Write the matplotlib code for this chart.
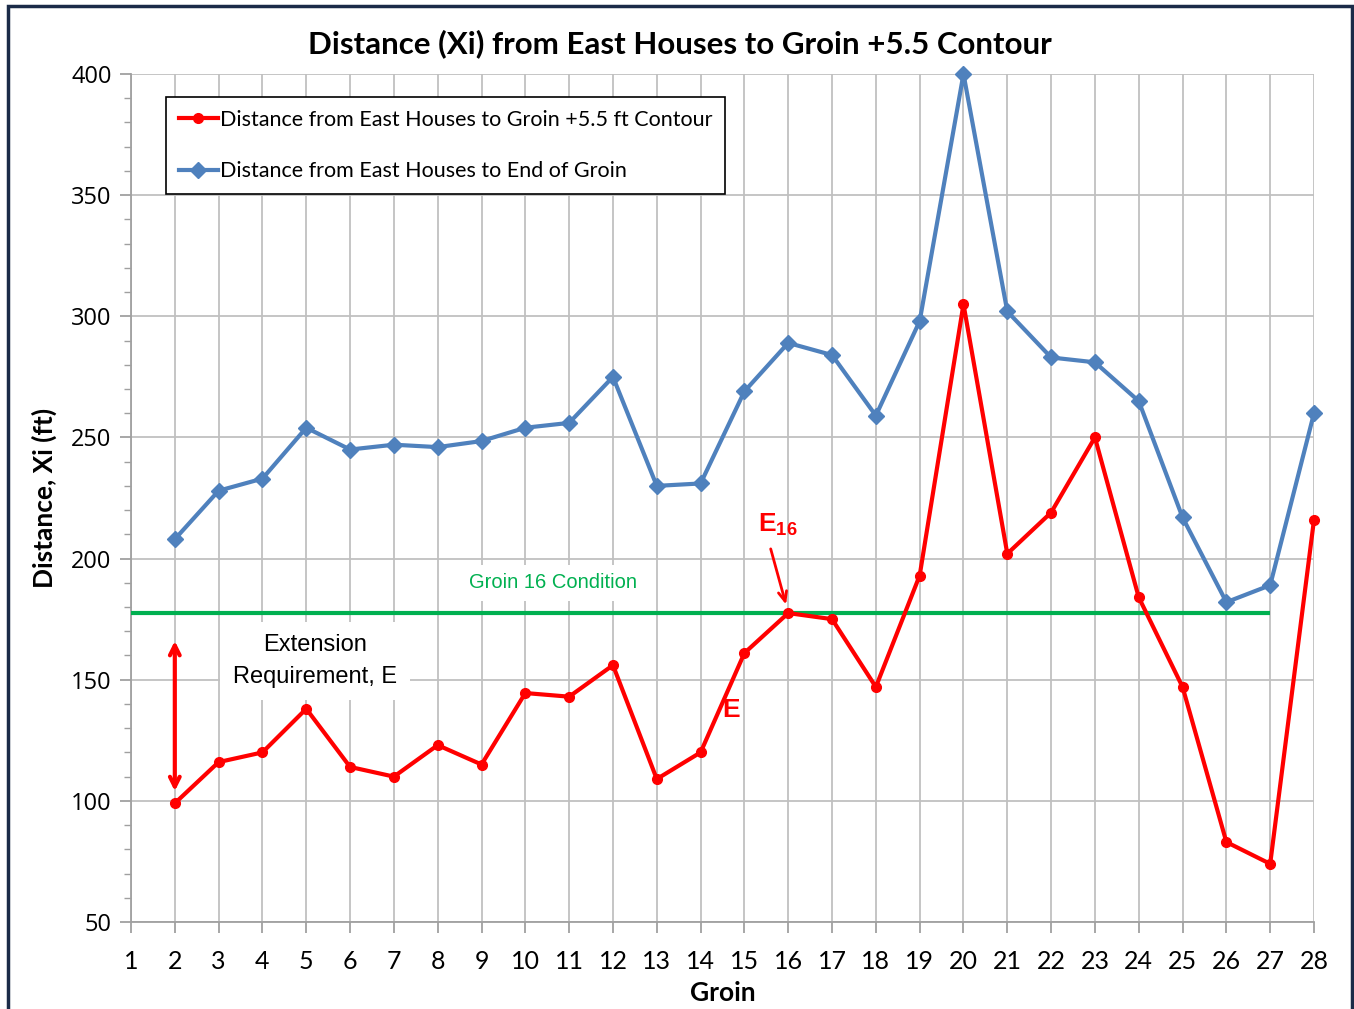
import matplotlib.pyplot as plt
from matplotlib.patches import Rectangle

plt.rcParams['font.family'] = ['Lato', 'DejaVu Sans']

# groin numbers and distances (ft)
groins = list(range(2, 29))
contour_dist = [99, 116, 120, 138, 114, 110, 123, 115, 144.5, 143, 156, 109, 120,
                161, 177.5, 175, 147, 193, 305, 202, 219, 250, 184, 147, 83, 74, 216]
groin_end_dist = [208, 228, 233, 254, 245, 247, 246, 248.5, 254, 256, 275, 230, 231,
                  269, 289, 284, 259, 298, 400, 302, 283, 281, 265, 217, 182, 189, 260]
groin16_condition = 177.5
y_ticks = list(range(50, 401, 50))

narrow = ['Liberation Sans Narrow', 'Liberation Sans']

fig = plt.figure(figsize=(13.54, 10.09), dpi=100)
ax = fig.add_axes([131 / 1354, 87 / 1009, (1314 - 131) / 1354, (922 - 74) / 1009])

# outer frame
fig.patches.append(Rectangle((8 / 1354, -0.02), 1344 / 1354, 1.0 - 6 / 1009 + 0.02,
                             transform=fig.transFigure, fill=False,
                             edgecolor='#1b2b48', linewidth=2.5))

ax.plot(groins, contour_dist, color='#ff0000', lw=3, marker='o', ms=7,
        label='Distance from East Houses to Groin +5.5 ft Contour', zorder=4, clip_on=False)
ax.plot(groins, groin_end_dist, color='#4f81bd', lw=3, marker='D', ms=8,
        label='Distance from East Houses to End of Groin', zorder=4, clip_on=False)
ax.hlines(groin16_condition, 1, 27, color='#00b050', lw=3, zorder=3)

ax.set_xlim(1, 28)
ax.set_ylim(50, 400)
ax.set_xticks(range(1, 29))
ax.set_yticks(y_ticks, labels=[str(v) for v in y_ticks],
              fontfamily=['Open Sans', 'DejaVu Sans'], fontsize=17)
ax.set_yticks(range(50, 401, 10), minor=True)
ax.grid(True, color='#c0c0c0', lw=1.3)
ax.set_axisbelow(True)
for s in ['top', 'right']:
    ax.spines[s].set_visible(False)
for s in ['left', 'bottom']:
    ax.spines[s].set_color('#a0a0a0')
    ax.spines[s].set_linewidth(1.3)
ax.tick_params(axis='both', which='major', length=8, color='#a0a0a0', width=1.3)
ax.tick_params(axis='y', which='minor', length=5, color='#a0a0a0', width=1)
ax.tick_params(axis='x', pad=12, labelsize=18)
ax.tick_params(axis='y', pad=6)

ax.set_xlabel('Groin', fontsize=19, fontweight='bold', labelpad=6)
ax.set_ylabel('Distance, Xi (ft)', fontsize=19, fontweight='bold', labelpad=10)
fig.text(680 / 1354, 1 - 44 / 1009, 'Distance (Xi) from East Houses to Groin +5.5 Contour',
         ha='center', va='center', fontsize=22.5, fontweight='bold')

leg = ax.legend(loc='upper left', bbox_to_anchor=(35 / 1183, 1 - 23 / 848), fontsize=15.5,
                frameon=True, fancybox=False, edgecolor='black', framealpha=1,
                handlelength=1.8, handletextpad=0.1, labelspacing=1.45, borderpad=0.6,
                borderaxespad=0)
leg.get_frame().set_linewidth(1.2)

# annotations
ax.text(10.63, 190, 'Groin 16 Condition', color='#00b050', fontsize=14.5,
        family=narrow, ha='center', va='center',
        bbox=dict(facecolor='white', edgecolor='none', pad=6))
ax.text(5.2, 157.7, 'Extension\nRequirement, E', color='black', fontsize=17,
        family=narrow, ha='center', va='center',
        linespacing=1.55, bbox=dict(facecolor='white', edgecolor='none', pad=9))
ax.annotate('', xy=(2, 104), xytext=(2, 166),
            arrowprops=dict(arrowstyle='<->,head_length=0.7,head_width=0.35',
                            color='#ff0000', lw=3, shrinkA=0, shrinkB=0))
ax.text(14.70, 137.5, 'E', color='#ff0000', fontsize=19, fontweight='bold',
        family=narrow, ha='center', va='center')
ax.text(15.77, 213.8, 'E$_{\\mathregular{16}}$', color='#ff0000', fontsize=19, fontweight='bold',
        family=narrow, ha='center', va='center')
ax.annotate('', xy=(15.95, 181), xytext=(15.6, 204),
            arrowprops=dict(arrowstyle='->,head_length=0.7,head_width=0.3',
                            color='#ff0000', lw=2, shrinkA=0, shrinkB=0))

fig.savefig('out.png', dpi=100)
